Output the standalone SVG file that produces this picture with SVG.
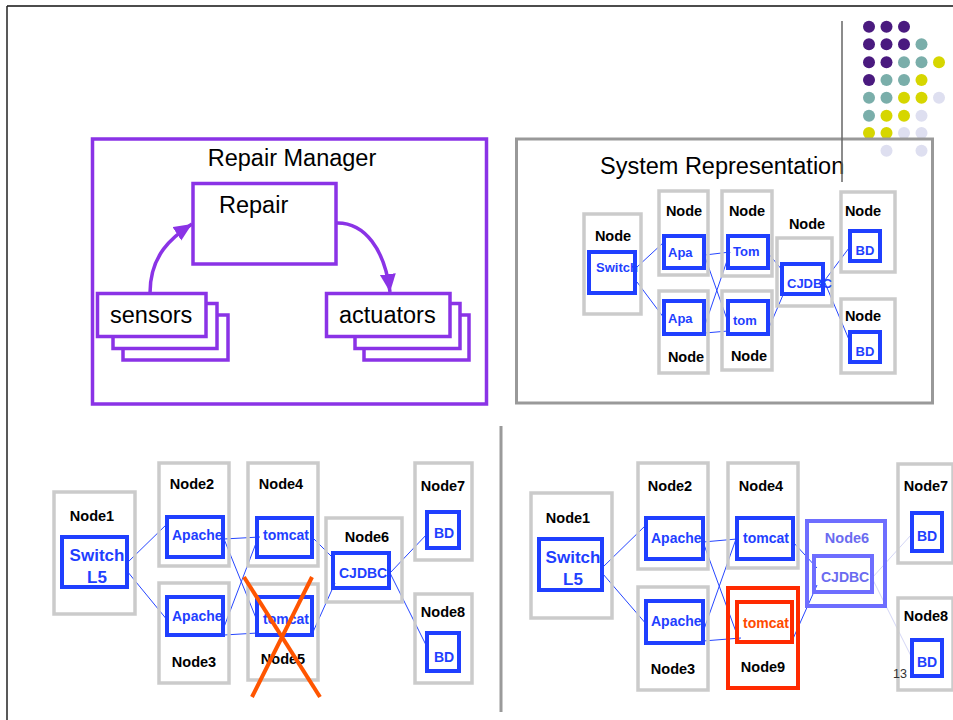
<svg xmlns="http://www.w3.org/2000/svg" width="953" height="720" viewBox="0 0 953 720">
<style>
.g{fill:none;stroke:#cbcbcb;stroke-width:3.5}
.b{fill:none;stroke:#1f3fff;stroke-width:4}
.nl{font-family:"Liberation Sans",Arial,sans-serif;font-weight:bold;font-size:14.5px;fill:#000;text-anchor:middle}
.bt{font-family:"Liberation Sans",Arial,sans-serif;font-weight:bold;font-size:13px;fill:#1f3fff}
.bt2{font-family:"Liberation Sans",Arial,sans-serif;font-weight:bold;font-size:14px;fill:#1f3fff}
.sw{font-family:"Liberation Sans",Arial,sans-serif;font-weight:bold;font-size:17px;fill:#1f3fff;text-anchor:middle}
.t{font-family:"Liberation Sans",Arial,sans-serif;font-size:23.5px;fill:#000}
.c{fill:none;stroke:#2646ff;stroke-width:1}
.p{fill:none;stroke:#8a33e6;stroke-width:3.5}
.pf{fill:#fff;stroke:#8a33e6;stroke-width:3.5}
.pd{fill:#4a1a7f}.tl{fill:#7aaeaa}.yl{fill:#d6d600}.lv{fill:#dedff0}
</style>
<defs>
<marker id="ah" markerUnits="userSpaceOnUse" markerWidth="20" markerHeight="18" refX="18" refY="8" orient="auto">
<path d="M0,0 L18,8 L0,16 z" fill="#8a33e6"/>
</marker>
</defs>
<rect x="0" y="0" width="953" height="720" fill="#fff"/>
<!-- frame -->
<line x1="7" y1="6" x2="953" y2="6" stroke="#111" stroke-width="1.5"/>
<line x1="7" y1="6" x2="7" y2="720" stroke="#222" stroke-width="1.5"/>
<line x1="501" y1="426" x2="501" y2="712" stroke="#9a9a9a" stroke-width="3"/>
<!-- dots -->
<g id="dots">
<circle class="pd" cx="869" cy="26.7" r="6"/><circle class="pd" cx="886.5" cy="26.7" r="6"/><circle class="pd" cx="904" cy="26.7" r="6"/>
<circle class="pd" cx="869" cy="44.3" r="6"/><circle class="pd" cx="886.5" cy="44.3" r="6"/><circle class="pd" cx="904" cy="44.3" r="6"/><circle class="tl" cx="921.5" cy="44.3" r="6"/>
<circle class="pd" cx="869" cy="62.3" r="6"/><circle class="pd" cx="886.5" cy="62.3" r="6"/><circle class="tl" cx="904" cy="62.3" r="6"/><circle class="tl" cx="921.5" cy="62.3" r="6"/><circle class="yl" cx="939" cy="62.3" r="6"/>
<circle class="pd" cx="869" cy="80" r="6"/><circle class="tl" cx="886.5" cy="80" r="6"/><circle class="tl" cx="904" cy="80" r="6"/><circle class="yl" cx="921.5" cy="80" r="6"/>
<circle class="tl" cx="869" cy="97.7" r="6"/><circle class="tl" cx="886.5" cy="97.7" r="6"/><circle class="yl" cx="904" cy="97.7" r="6"/><circle class="yl" cx="921.5" cy="97.7" r="6"/><circle class="lv" cx="939" cy="97.7" r="6"/>
<circle class="tl" cx="869" cy="115.7" r="6"/><circle class="yl" cx="886.5" cy="115.7" r="6"/><circle class="yl" cx="904" cy="115.7" r="6"/><circle class="lv" cx="921.5" cy="115.7" r="6"/>
<circle class="yl" cx="869" cy="133" r="6"/><circle class="yl" cx="886.5" cy="133" r="6"/><circle class="lv" cx="904" cy="133" r="6"/><circle class="lv" cx="921.5" cy="133" r="6"/>
<circle class="lv" cx="886.5" cy="150.7" r="6"/><circle class="lv" cx="921.5" cy="150.7" r="6"/>
</g>
<!-- Repair Manager -->
<g id="repair-manager">
<rect class="p" x="92.5" y="139" width="394" height="265"/>
<text class="t" x="292" y="166" text-anchor="middle">Repair Manager</text>
</g>
<g id="repair">
<rect class="pf" x="193" y="183.5" width="143" height="80.5"/>
<text class="t" x="219" y="213">Repair</text>
</g>
<g id="sensors">
<rect class="pf" x="123" y="315" width="105" height="45"/>
<rect class="pf" x="113" y="303.5" width="104" height="45"/>
<rect class="pf" x="97.5" y="293.5" width="108.5" height="43"/>
<text class="t" x="110" y="323">sensors</text>
</g>
<g id="actuators">
<rect class="pf" x="364" y="315" width="105" height="45"/>
<rect class="pf" x="355" y="303.5" width="105" height="45"/>
<rect class="pf" x="326.5" y="293.5" width="123.5" height="43"/>
<text class="t" x="339" y="323">actuators</text>
</g>
<g id="rm-arrows">
<path class="p" d="M150,293 C150,255 172,237 192,224" marker-end="url(#ah)"/>
<path class="p" d="M336,223 C365,222 385,250 390,292" marker-end="url(#ah)"/>
</g>
<!-- System Representation -->
<g id="system-representation">
<rect x="516.5" y="139" width="416" height="264" fill="none" stroke="#999" stroke-width="3"/>
<text class="t" x="600" y="174">System Representation</text>
</g>
<g id="sr-connectors">
<line class="c" x1="637" y1="267" x2="664" y2="242"/>
<line class="c" x1="637" y1="282" x2="664" y2="318"/>
<line class="c" x1="705" y1="255" x2="730" y2="252"/>
<line class="c" x1="705" y1="257" x2="728" y2="322"/>
<line class="c" x1="705" y1="325" x2="730" y2="252"/>
<line class="c" x1="705" y1="333" x2="728" y2="331"/>
<line class="c" x1="768" y1="253" x2="783" y2="271"/>
<line class="c" x1="768" y1="330" x2="783" y2="295"/>
<line class="c" x1="825" y1="280" x2="849" y2="248"/>
<line class="c" x1="825" y1="283" x2="850" y2="342"/>
</g>
<g id="sr-switch"><rect class="g" x="584" y="214" width="57" height="100"/><text class="nl" x="613" y="241">Node</text><text class="bt" x="596" y="272">Switch</text><rect class="b" x="589" y="252" width="46" height="41"/></g>
<g id="sr-apa1"><rect class="g" x="659" y="191" width="49" height="84"/><text class="nl" x="684" y="216">Node</text><text class="bt" x="668" y="257">Apa</text><rect class="b" x="664" y="236" width="40" height="32"/></g>
<g id="sr-apa2"><rect class="g" x="659" y="291" width="49" height="82"/><text class="nl" x="686" y="362">Node</text><text class="bt" x="668" y="323">Apa</text><rect class="b" x="664" y="301" width="40" height="33"/></g>
<g id="sr-tom1"><rect class="g" x="722" y="191" width="50" height="85"/><text class="nl" x="747" y="216">Node</text><text class="bt" x="733" y="256">Tom</text><rect class="b" x="728" y="236" width="40" height="32"/></g>
<g id="sr-tom2"><rect class="g" x="722" y="291" width="50" height="79"/><text class="nl" x="749" y="361">Node</text><text class="bt" x="733" y="325">tom</text><rect class="b" x="728" y="301" width="40" height="33"/></g>
<g id="sr-cjdbc"><rect class="g" x="777" y="238" width="55" height="68"/><text class="nl" x="807" y="229">Node</text><text class="bt" x="787" y="288">CJDBC</text><rect class="b" x="782" y="264" width="41" height="30"/></g>
<g id="sr-bd1"><rect class="g" x="841" y="192" width="54" height="80"/><text class="nl" x="863" y="216">Node</text><text class="bt" x="865" y="255" text-anchor="middle">BD</text><rect class="b" x="850" y="231" width="30" height="30"/></g>
<g id="sr-bd2"><rect class="g" x="841" y="299" width="54" height="74"/><text class="nl" x="863" y="321">Node</text><text class="bt" x="865" y="356" text-anchor="middle">BD</text><rect class="b" x="850" y="332" width="30" height="30"/></g>
<line x1="842" y1="21" x2="842" y2="182" stroke="#666" stroke-width="1.5"/>
<!-- bottom-left -->
<g id="bl-connectors">
<line class="c" x1="127" y1="563" x2="168" y2="523"/>
<line class="c" x1="127" y1="571" x2="168" y2="621"/>
<line class="c" x1="224" y1="539" x2="260" y2="537"/>
<line class="c" x1="224" y1="539" x2="258" y2="623"/>
<line class="c" x1="224" y1="627" x2="258" y2="538"/>
<line class="c" x1="224" y1="635" x2="258" y2="633"/>
<line class="c" x1="312" y1="537" x2="335" y2="560"/>
<line class="c" x1="313" y1="632" x2="335" y2="583"/>
<line class="c" x1="390" y1="573" x2="428" y2="533"/>
<line class="c" x1="390" y1="573" x2="427" y2="647"/>
</g>
<g id="bl-node1"><rect class="g" x="54" y="492" width="81" height="122"/><text class="nl" x="92" y="521">Node1</text><text class="sw" x="97" y="561">Switch</text><text class="sw" x="97" y="583">L5</text><rect class="b" x="62" y="537" width="65" height="50"/></g>
<g id="bl-node2"><rect class="g" x="159" y="463" width="70" height="103"/><text class="nl" x="192" y="489">Node2</text><text class="bt2" x="172" y="540">Apache</text><rect class="b" x="167" y="517" width="56" height="40"/></g>
<g id="bl-node3"><rect class="g" x="159" y="583" width="70" height="100"/><text class="nl" x="194" y="667">Node3</text><text class="bt2" x="172" y="621">Apache</text><rect class="b" x="167" y="597" width="56" height="38"/></g>
<g id="bl-node4"><rect class="g" x="248" y="463" width="70" height="103"/><text class="nl" x="281" y="489">Node4</text><text class="bt2" x="263" y="540">tomcat</text><rect class="b" x="257" y="518" width="55" height="39"/></g>
<g id="bl-node5"><rect class="g" x="248" y="584" width="70" height="96"/><text class="nl" x="283" y="664">Node5</text><text class="bt2" x="263" y="624">tomcat</text><rect class="b" x="257" y="597" width="55" height="38"/></g>
<g id="bl-node6"><rect class="g" x="326" y="518" width="76" height="84"/><text class="nl" x="367" y="542">Node6</text><text class="bt2" x="339" y="578">CJDBC</text><rect class="b" x="333" y="553" width="56" height="35"/></g>
<g id="bl-node7"><rect class="g" x="415" y="463" width="57" height="97"/><text class="nl" x="443" y="491">Node7</text><text class="bt2" x="444" y="538" text-anchor="middle">BD</text><rect class="b" x="427" y="512" width="32" height="36"/></g>
<g id="bl-node8"><rect class="g" x="415" y="594" width="57" height="89"/><text class="nl" x="443" y="617">Node8</text><text class="bt2" x="444" y="662" text-anchor="middle">BD</text><rect class="b" x="427" y="633" width="32" height="38"/></g>
<g id="bl-cross">
<line x1="244" y1="577" x2="320" y2="697" stroke="#ff5500" stroke-width="4"/>
<line x1="312" y1="577" x2="252" y2="697" stroke="#ff5500" stroke-width="4"/>
</g>
<!-- bottom-right -->
<g id="br-connectors">
<line class="c" x1="603" y1="567" x2="647" y2="524"/>
<line class="c" x1="603" y1="574" x2="647" y2="625"/>
<line class="c" x1="703" y1="542" x2="737" y2="539"/>
<line class="c" x1="703" y1="542" x2="739" y2="640"/>
<line class="c" x1="703" y1="632" x2="736" y2="539"/>
<line class="c" x1="703" y1="641" x2="741" y2="638"/>
<line class="c" x1="793" y1="542" x2="817" y2="568"/>
<line class="c" x1="792" y1="641" x2="817" y2="585"/>
<line x1="872" y1="578" x2="911" y2="535" stroke="#d4d6f6" stroke-width="1"/>
<line x1="872" y1="578" x2="911" y2="656" stroke="#d4d6f6" stroke-width="1"/>
</g>
<g id="br-node1"><rect class="g" x="531" y="493" width="81" height="125"/><text class="nl" x="568" y="523">Node1</text><text class="sw" x="573" y="563">Switch</text><text class="sw" x="573" y="585">L5</text><rect class="b" x="539" y="539" width="63" height="51"/></g>
<g id="br-node2"><rect class="g" x="638" y="463" width="70" height="106"/><text class="nl" x="670" y="491">Node2</text><text class="bt2" x="651" y="543">Apache</text><rect class="b" x="646" y="518" width="57" height="41"/></g>
<g id="br-node3"><rect class="g" x="638" y="587" width="70" height="103"/><text class="nl" x="673" y="674">Node3</text><text class="bt2" x="651" y="626">Apache</text><rect class="b" x="646" y="601" width="57" height="42"/></g>
<g id="br-node4"><rect class="g" x="728" y="463" width="70" height="105"/><text class="nl" x="761" y="491">Node4</text><text class="bt2" x="743" y="543">tomcat</text><rect class="b" x="737" y="518" width="56" height="41"/></g>
<g id="br-node9"><rect x="728" y="588" width="70" height="100" fill="none" stroke="#ff2a00" stroke-width="4"/><text class="nl" x="763" y="672">Node9</text><text x="743" y="628" font-family="Liberation Sans, Arial, sans-serif" font-weight="bold" font-size="14" fill="#ff4a00">tomcat</text><rect x="737" y="602" width="55" height="40" fill="none" stroke="#ff2a00" stroke-width="4"/></g>
<g id="br-node6"><rect x="807" y="521" width="78" height="85" fill="none" stroke="#6e6eff" stroke-width="4"/><text class="nl" x="847" y="543" style="fill:#6b6bf0">Node6</text><text class="bt2" x="821" y="582" style="fill:#6b6bf0">CJDBC</text><rect x="814" y="556" width="58" height="36" fill="none" stroke="#6e6eff" stroke-width="4"/></g>
<g id="br-node7"><rect class="g" x="898" y="464" width="55" height="99"/><text class="nl" x="926" y="491">Node7</text><text class="bt2" x="927" y="541" text-anchor="middle">BD</text><rect class="b" x="912" y="513" width="30" height="38"/></g>
<g id="br-node8"><rect class="g" x="898" y="598" width="55" height="92"/><text class="nl" x="926" y="621">Node8</text><text class="bt2" x="927" y="667" text-anchor="middle">BD</text><rect class="b" x="912" y="640" width="30" height="36"/></g>
<text x="893" y="678" font-family="Liberation Sans, Arial, sans-serif" font-size="12.5" fill="#333">13</text>
</svg>
